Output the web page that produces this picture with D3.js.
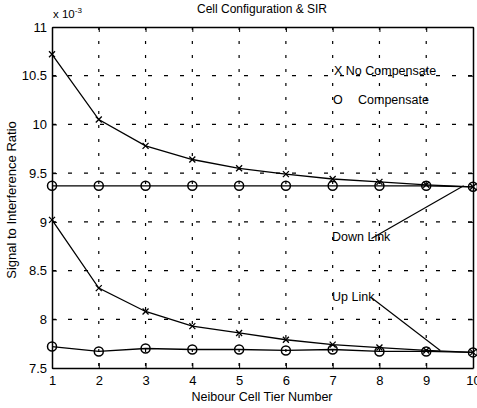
<!DOCTYPE html>
<html><head><meta charset="utf-8">
<script src="https://cdn.jsdelivr.net/npm/d3@7"></script>
<style>body{margin:0;background:#fff;} text{font-family:"Liberation Sans",Arial,sans-serif;fill:#000;}</style>
</head><body><svg id="c" width="477" height="408"></svg>
<script>
const tiers = [1,2,3,4,5,6,7,8,9,10];
const downNoComp = [10.72,10.05,9.78,9.64,9.55,9.49,9.44,9.41,9.38,9.36];
const downComp   = [9.37,9.37,9.37,9.37,9.37,9.37,9.37,9.37,9.37,9.36];
const upNoComp   = [9.02,8.32,8.08,7.93,7.86,7.79,7.74,7.71,7.68,7.66];
const upComp     = [7.72,7.67,7.70,7.69,7.69,7.68,7.69,7.67,7.67,7.66];
const yTicks = [7.5,8,8.5,9,9.5,10,10.5,11];
const xTicks = [1,2,3,4,5,6,7,8,9,10];

const svg = d3.select("#c");
const L=52,R=473,T=27,B=368;
const x = d3.scaleLinear().domain([1,10]).range([L,R]);
const y = d3.scaleLinear().domain([7.5,11]).range([B,T]);

// grid
const g = svg.append("g");
g.selectAll(".gx").data(xTicks.slice(1,-1)).enter().append("line")
 .attr("x1",d=>x(d)).attr("x2",d=>x(d)).attr("y1",T).attr("y2",B)
 .attr("stroke","#000").attr("stroke-width",1.2).attr("stroke-dasharray","3,11");
g.selectAll(".gy").data(yTicks.slice(1,-1)).enter().append("line")
 .attr("y1",d=>y(d)).attr("y2",d=>y(d)).attr("x1",L).attr("x2",R)
 .attr("stroke","#000").attr("stroke-width",1.2).attr("stroke-dasharray","4,12");

// axes
const fmt = d=>String(d);
svg.append("g").attr("transform",`translate(0,${B})`)
 .call(d3.axisBottom(x).tickValues(xTicks).tickFormat(fmt).tickSizeInner(-5).tickSizeOuter(0).tickPadding(8))
 .call(a=>{a.select(".domain").attr("stroke-width",1.5);a.selectAll("text").attr("font-size",13);});
svg.append("g").attr("transform",`translate(${L},0)`)
 .call(d3.axisLeft(y).tickValues(yTicks).tickFormat(fmt).tickSizeInner(-5).tickSizeOuter(0).tickPadding(5))
 .call(a=>{a.select(".domain").attr("stroke-width",1.5);a.selectAll("text").attr("font-size",13);});
svg.append("g").attr("transform",`translate(0,${T})`)
 .call(d3.axisTop(x).tickValues(xTicks).tickFormat("").tickSizeInner(-5).tickSizeOuter(0))
 .call(a=>a.select(".domain").attr("stroke-width",1.5));
svg.append("g").attr("transform",`translate(${R},0)`)
 .call(d3.axisRight(y).tickValues(yTicks).tickFormat("").tickSizeInner(-5).tickSizeOuter(0))
 .call(a=>a.select(".domain").attr("stroke-width",1.5));

// lines
const line = d3.line().x((d,i)=>x(tiers[i])).y(d=>y(d));
[downNoComp,downComp,upNoComp,upComp].forEach(s=>{
  svg.append("path").attr("d",line(s)).attr("fill","none").attr("stroke","#000").attr("stroke-width",1.3);
});
// X markers
[downNoComp,upNoComp].forEach(s=>{
  s.forEach((v,i)=>{
    const cx=x(tiers[i]),cy=y(v),r=3;
    svg.append("path").attr("d",`M${cx-r},${cy-r}L${cx+r},${cy+r}M${cx-r},${cy+r}L${cx+r},${cy-r}`)
      .attr("stroke","#000").attr("stroke-width",1.3);
  });
});
// O markers
[downComp,upComp].forEach(s=>{
  svg.selectAll(null).data(s).enter().append("circle")
   .attr("cx",(d,i)=>x(tiers[i])).attr("cy",d=>y(d)).attr("r",4.5)
   .attr("fill","none").attr("stroke","#000").attr("stroke-width",1.5);
});

// annotations
svg.append("line").attr("x1",x(7.83)).attr("y1",y(8.83)).attr("x2",x(9.8)).attr("y2",y(9.37)).attr("stroke","#000").attr("stroke-width",1.2);
svg.append("line").attr("x1",x(7.83)).attr("y1",y(8.22)).attr("x2",x(9.3)).attr("y2",y(7.68)).attr("stroke","#000").attr("stroke-width",1.2);
svg.append("text").attr("x",332).attr("y",241).attr("font-size",12.5).text("Down Link");
svg.append("text").attr("x",332).attr("y",301).attr("font-size",12.5).text("Up Link");
svg.append("text").attr("x",334).attr("y",75).attr("font-size",12.5).text("X No Compensate");
svg.append("text").attr("x",333).attr("y",104).attr("font-size",12.5).text("O");
svg.append("text").attr("x",358).attr("y",104).attr("font-size",12.5).text("Compensate");

// titles
svg.append("text").attr("x",262).attr("y",13).attr("text-anchor","middle").attr("font-size",12).text("Cell Configuration & SIR");
const e = svg.append("text").attr("x",53).attr("y",18).attr("font-size",11.5);
e.append("tspan").text("x 10");
e.append("tspan").attr("dy",-5).attr("font-size",8).text("-3");
svg.append("text").attr("x",262).attr("y",401).attr("text-anchor","middle").attr("font-size",12.5).text("Neibour Cell Tier Number");
svg.append("text").attr("transform","translate(16,200) rotate(-90)").attr("text-anchor","middle").attr("font-size",13).text("Signal to Interference Ratio");
</script></body></html>
